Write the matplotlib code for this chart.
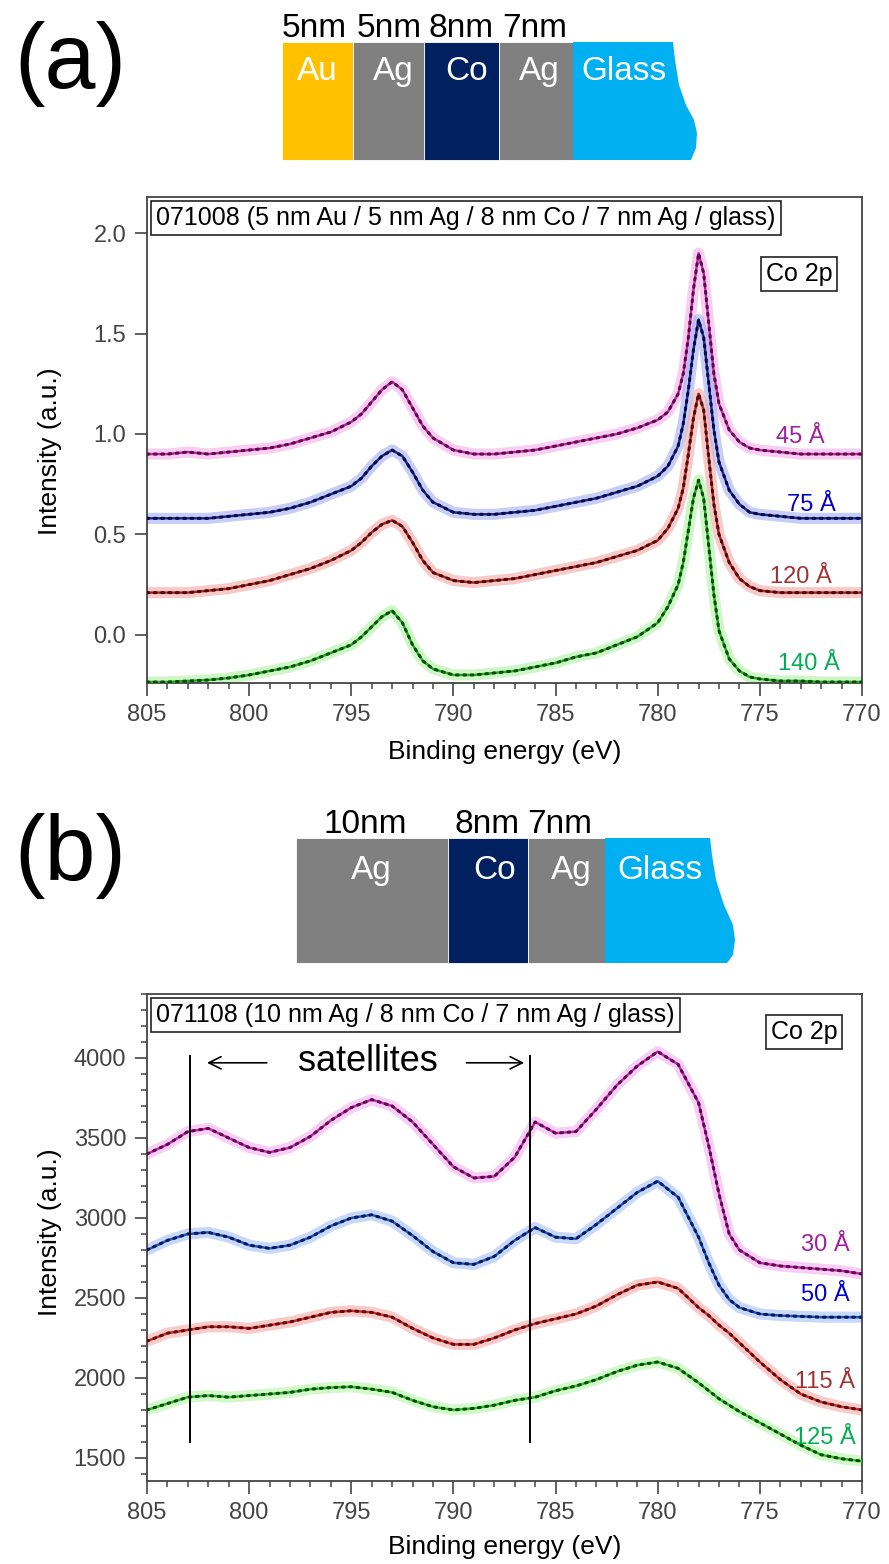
import matplotlib
matplotlib.use('Agg')
import matplotlib.pyplot as plt
from matplotlib.patches import Rectangle, Polygon
from matplotlib.ticker import MultipleLocator, FormatStrFormatter

plt.rcParams['font.family'] = ['Liberation Sans', 'DejaVu Sans']

# ---- panel (a) data: 5 nm Au / 5 nm Ag / 8 nm Co / 7 nm Ag / glass
xa = [805, 804, 803, 802, 801, 800, 799, 798, 797, 796, 795, 794.5, 794, 793.5, 793,
      792.5, 792, 791.5, 791, 790, 789, 788, 787, 786, 785, 784, 783, 782, 781, 780,
      779.5, 779, 778.75, 778.5, 778.25, 778, 777.75, 777.5, 777.25, 777, 776.5, 776,
      775.5, 775, 774, 773, 772, 771, 770]
a45 = [0.90, 0.90, 0.91, 0.90, 0.91, 0.92, 0.93, 0.95, 0.98, 1.01, 1.06, 1.10, 1.16, 1.22, 1.26,
       1.22, 1.13, 1.04, 0.98, 0.92, 0.90, 0.90, 0.91, 0.92, 0.94, 0.96, 0.98, 1.00, 1.03, 1.07,
       1.11, 1.20, 1.30, 1.48, 1.72, 1.90, 1.80, 1.55, 1.30, 1.15, 1.02, 0.96,
       0.93, 0.92, 0.91, 0.90, 0.90, 0.90, 0.90]
a75 = [0.58, 0.58, 0.58, 0.58, 0.59, 0.60, 0.61, 0.63, 0.66, 0.70, 0.74, 0.78, 0.84, 0.89, 0.92,
       0.89, 0.81, 0.72, 0.66, 0.61, 0.60, 0.60, 0.61, 0.62, 0.64, 0.66, 0.68, 0.71, 0.74, 0.79,
       0.84, 0.94, 1.05, 1.22, 1.42, 1.57, 1.48, 1.25, 1.02, 0.86, 0.72, 0.65,
       0.61, 0.60, 0.59, 0.58, 0.58, 0.58, 0.58]
a120 = [0.21, 0.21, 0.21, 0.22, 0.23, 0.25, 0.27, 0.30, 0.33, 0.37, 0.42, 0.46, 0.51, 0.55, 0.57,
        0.54, 0.46, 0.37, 0.31, 0.27, 0.26, 0.27, 0.28, 0.30, 0.32, 0.34, 0.36, 0.39, 0.42, 0.47,
        0.53, 0.63, 0.73, 0.90, 1.08, 1.20, 1.12, 0.88, 0.65, 0.50, 0.36, 0.28,
        0.24, 0.22, 0.21, 0.21, 0.21, 0.21, 0.21]
a140 = [-0.235, -0.235, -0.23, -0.225, -0.215, -0.20, -0.18, -0.16, -0.13, -0.09, -0.05, -0.01, 0.04, 0.09, 0.12,
        0.06, -0.05, -0.13, -0.17, -0.20, -0.20, -0.19, -0.18, -0.16, -0.14, -0.11, -0.09, -0.05, -0.01, 0.06,
        0.14, 0.25, 0.36, 0.52, 0.68, 0.77, 0.68, 0.44, 0.20, 0.02, -0.12, -0.18,
        -0.21, -0.22, -0.23, -0.23, -0.235, -0.235, -0.235]

# ---- panel (b) data: 10 nm Ag / 8 nm Co / 7 nm Ag / glass
xb = [805, 804, 803, 802, 801, 800, 799, 798, 797, 796, 795, 794, 793, 792, 791, 790, 789, 788,
      787, 786, 785, 784, 783, 782, 781, 780, 779, 778, 777.5, 777, 776.5, 776, 775, 774, 773,
      772, 771, 770]
b30 = [3400, 3460, 3540, 3560, 3500, 3440, 3410, 3440, 3510, 3610, 3690, 3740, 3700, 3600, 3460, 3320, 3250, 3260,
       3380, 3600, 3530, 3540, 3680, 3830, 3950, 4040, 3960, 3720, 3450, 3150, 2900, 2800, 2720, 2700, 2690,
       2680, 2670, 2650]
b50 = [2800, 2860, 2900, 2910, 2880, 2830, 2810, 2830, 2880, 2950, 3000, 3020, 2980, 2890, 2790, 2720, 2710, 2760,
       2860, 2940, 2880, 2870, 2960, 3060, 3160, 3230, 3130, 2880, 2720, 2580, 2490, 2440, 2400, 2390, 2385,
       2380, 2380, 2380]
b115 = [2230, 2280, 2300, 2320, 2320, 2310, 2330, 2350, 2380, 2410, 2420, 2410, 2380, 2310, 2250, 2210, 2210, 2250,
        2300, 2340, 2370, 2400, 2450, 2520, 2580, 2600, 2560, 2440, 2390, 2330, 2280, 2220, 2100, 1990, 1900,
        1850, 1820, 1800]
b125 = [1800, 1840, 1880, 1890, 1880, 1890, 1900, 1910, 1930, 1940, 1945, 1930, 1910, 1860, 1820, 1800, 1810, 1830,
        1860, 1880, 1920, 1950, 1990, 2040, 2080, 2100, 2060, 1970, 1920, 1870, 1830, 1790, 1720, 1650, 1580,
        1520, 1495, 1480]

# satellite markers in panel (b)
sat_x = [802.9, 786.25]
sat_y = (1595, 4020)
arrow_y = 3970
arrow_left = (799.0, 802.2)
arrow_right = (789.5, 786.4)

# labels: text, energy, intensity
labels_a = [('45 Å', 773.0, 0.985), ('75 Å', 772.5, 0.647), ('120 Å', 773.0, 0.289), ('140 Å', 772.6, -0.145)]
labels_b = [('30 Å', 771.8, 2831), ('50 Å', 771.8, 2519), ('115 Å', 771.8, 1975), ('125 Å', 771.8, 1625)]

title_a = '071008 (5 nm Au / 5 nm Ag / 8 nm Co / 7 nm Ag / glass)'
title_b = '071108 (10 nm Ag / 8 nm Co / 7 nm Ag / glass)'

layers_a = ['Au', 'Ag', 'Co', 'Ag', 'Glass']
thick_a = ['5nm', '5nm', '8nm', '7nm']
layers_b = ['Ag', 'Co', 'Ag', 'Glass']
thick_b = ['10nm', '8nm', '7nm']

layer_col = {'Au': '#FFC000', 'Ag': '#808080', 'Co': '#002060', 'Glass': '#00B0F0'}

# (line, halo, dots, label colour)
sty_a = [('#C0289C', '#F2A6E6', '#5a0a4a', '#A020A0'),
         ('#1c2a9a', '#9aa6f0', '#0a0a40', '#0000C8'),
         ('#B02424', '#F2A0A0', '#4a0a0a', '#A03434'),
         ('#22B022', '#A8F09A', '#0a4a0a', '#00B050')]
sty_b = [('#C828B0', '#F4A8EC', '#5a0a4a', '#A020A0'),
         ('#1f55d0', '#9ab8f4', '#0a1a50', '#0000D0'),
         ('#E02424', '#F4A0A0', '#501010', '#A03434'),
         ('#28C028', '#B0F4A0', '#0a4a0a', '#00B050')]

W, H = 889, 1564
fig = plt.figure(figsize=(W / 100, H / 100), dpi=100)

# background axes in pixel units for the layer sketches
bg = fig.add_axes([0, 0, 1, 1])
bg.set_xlim(0, W)
bg.set_ylim(H, 0)
bg.axis('off')


def stack(names, thick, edges, glass_pts, top, bot, name_x, thick_x, name_base, thick_base):
    for i, nm in enumerate(names):
        if nm == 'Glass':
            bg.add_patch(Polygon(glass_pts, closed=True, fc=layer_col[nm], ec='none'))
        else:
            bg.add_patch(Rectangle((edges[i], top), edges[i + 1] - edges[i], bot - top,
                                   fc=layer_col[nm], ec='white', lw=0.6))
        bg.text(name_x[i], name_base, nm, color='white', fontsize=24, ha='center', va='baseline')
    for i, t in enumerate(thick):
        bg.text(thick_x[i], thick_base, t, color='black', fontsize=24, ha='center', va='baseline')


glass_a = [(573, 42), (673, 42), (675, 60), (679, 85), (686, 105), (694, 120), (697, 133),
           (696, 148), (691, 160), (573, 160)]
stack(layers_a, thick_a, [282, 353, 424, 499, 573], glass_a, 42, 160,
      [317, 393, 467, 539, 624], [314, 389, 461, 535], 80, 37)

glass_b = [(605, 838), (710, 838), (712, 855), (716, 880), (724, 905), (733, 925), (735, 940),
           (733, 955), (727, 963), (605, 963)]
stack(layers_b, thick_b, [296, 448, 528, 605], glass_b, 838, 963,
      [371, 495, 571, 660], [365, 487.5, 560], 879, 833)

bg.text(70, 64, '(a)', fontsize=66, ha='center', va='center')
bg.text(70, 856, '(b)', fontsize=66, ha='center', va='center')


def spectrum(ax, x, y, sty):
    line, halo, dots, _ = sty
    ax.plot(x, y, color=halo, lw=8, alpha=0.55, solid_capstyle='round', zorder=2)
    ax.plot(x, y, color=line, lw=1.8, zorder=3)
    ax.plot(x, y, color=dots, lw=2.2, ls=(0, (0.6, 1.8)), dash_capstyle='round', zorder=4)


def style_axes(ax):
    ax.set_xlim(805, 770)
    ax.xaxis.set_major_locator(MultipleLocator(5))
    ax.xaxis.set_minor_locator(MultipleLocator(1))
    for s in ax.spines.values():
        s.set_color('#444444')
        s.set_linewidth(1.3)
    ax.tick_params(which='major', direction='out', length=9, width=1.2, color='#444444',
                   labelsize=17, labelcolor='#444444', pad=6)
    ax.tick_params(which='minor', direction='out', length=4.5, width=1.1, color='#444444')


box = dict(boxstyle='square,pad=0.2', fc='white', ec='#222222', lw=1.2)

# ---- panel (a)
ax_a = fig.add_axes([147 / W, 1 - 683 / H, 715 / W, 486 / H])
for yy, st in zip([a45, a75, a120, a140], sty_a):
    spectrum(ax_a, xa, yy, st)
style_axes(ax_a)
ax_a.set_ylim(-0.24, 2.18)
ax_a.yaxis.set_major_locator(MultipleLocator(0.5))
ax_a.yaxis.set_major_formatter(FormatStrFormatter('%.1f'))
ax_a.text(0.013, 0.982, title_a, transform=ax_a.transAxes, ha='left', va='top', fontsize=18, bbox=box, zorder=6)
ax_a.text(0.912, 0.842, 'Co 2p', transform=ax_a.transAxes, ha='center', va='center', fontsize=18, bbox=box, zorder=6)
for (t, e, v), st in zip(labels_a, sty_a):
    ax_a.text(e, v, t, color=st[3], fontsize=17, ha='center', va='center', zorder=6)

# ---- panel (b)
ax_b = fig.add_axes([147 / W, 1 - 1481 / H, 715 / W, 487 / H])
for yy, st in zip([b30, b50, b115, b125], sty_b):
    spectrum(ax_b, xb, yy, st)
style_axes(ax_b)
ax_b.set_ylim(1356, 4400)
ax_b.yaxis.set_major_locator(MultipleLocator(500))
ax_b.yaxis.set_minor_locator(MultipleLocator(100))
ax_b.text(0.013, 0.982, title_b, transform=ax_b.transAxes, ha='left', va='top', fontsize=18, bbox=box, zorder=6)
ax_b.text(0.919, 0.922, 'Co 2p', transform=ax_b.transAxes, ha='center', va='center', fontsize=18, bbox=box, zorder=6)
for (t, e, v), st in zip(labels_b, sty_b):
    ax_b.text(e, v, t, color=st[3], fontsize=17, ha='center', va='center', zorder=6)

ax_b.vlines(sat_x, sat_y[0], sat_y[1], color='black', lw=1.4, zorder=5)
ax_b.annotate('', xy=(arrow_left[1], arrow_y), xytext=(arrow_left[0], arrow_y),
              arrowprops=dict(arrowstyle='->', lw=1.2, color='black', mutation_scale=22))
ax_b.annotate('', xy=(arrow_right[1], arrow_y), xytext=(arrow_right[0], arrow_y),
              arrowprops=dict(arrowstyle='->', lw=1.2, color='black', mutation_scale=22))
ax_b.text(794.2, 3975, 'satellites', fontsize=26, ha='center', va='center', zorder=6)

# axis labels
for yc, xc in [(451, 752), (1232, 1547)]:
    fig.text(50 / W, 1 - yc / H, 'Intensity (a.u.)', rotation=90, fontsize=19, ha='center', va='center')
    fig.text(505 / W, 1 - xc / H, 'Binding energy (eV)', fontsize=19, ha='center', va='center')

fig.savefig('out.png', dpi=100)
